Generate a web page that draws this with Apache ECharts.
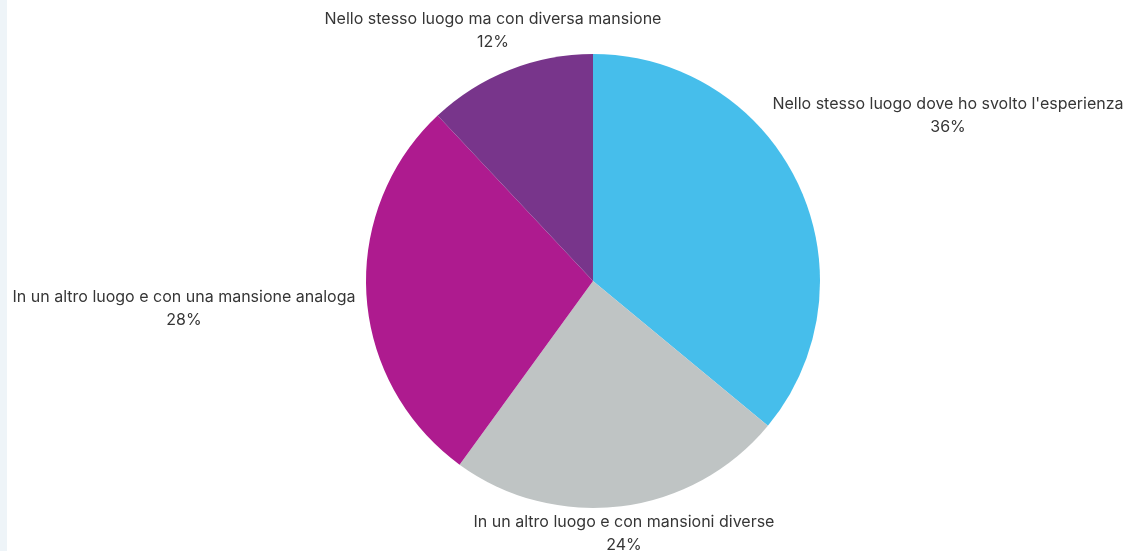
<!DOCTYPE html>
<html>
<head>
<meta charset="utf-8">
<script src="https://cdn.jsdelivr.net/npm/echarts@6/dist/echarts.min.js"></script>
<style>
  html, body { margin: 0; padding: 0; background: #ffffff; }
  #chart { width: 1128px; height: 551px; }
</style>
</head>
<body>
<div id="chart"></div>
<script>
// Answer categories and their shares (%)
const categories = [
  "Nello stesso luogo dove ho svolto l'esperienza",
  "In un altro luogo e con mansioni diverse",
  "In un altro luogo e con una mansione analoga",
  "Nello stesso luogo ma con diversa mansione"
];
const shares = [36, 24, 28, 12];
const sliceColors = ['#46BEEB', '#BFC4C4', '#AE1B8F', '#78358B'];

// Where each label block is centred (px), kept apart from the data
const labelAnchors = [
  [948, 116],
  [624, 534],
  [184, 309],
  [493, 31]
];

const chart = echarts.init(document.getElementById('chart'), null, { renderer: 'canvas' });

chart.setOption({
  backgroundColor: '#ffffff',
  animation: false,
  graphic: [{
    type: 'rect',
    shape: { x: 0, y: 0, width: 7, height: 551 },
    style: { fill: '#EEF4F8' },
    silent: true
  }],
  series: [{
    type: 'pie',
    center: [593, 281],
    radius: 227,
    startAngle: 90,
    clockwise: true,
    avoidLabelOverlap: false,
    itemStyle: { borderWidth: 0 },
    label: {
      show: true,
      position: 'outside',
      formatter: '{b}\n{c}%',
      color: '#363636',
      fontFamily: 'Inter, "Noto Sans", sans-serif',
      fontSize: 16,
      lineHeight: 23,
      align: 'center'
    },
    labelLine: { show: false },
    labelLayout: function (params) {
      const a = labelAnchors[params.dataIndex];
      return { x: a[0], y: a[1], align: 'center', verticalAlign: 'middle' };
    },
    data: categories.map((name, i) => ({
      name: name,
      value: shares[i],
      itemStyle: { color: sliceColors[i] }
    }))
  }]
});
</script>
</body>
</html>
